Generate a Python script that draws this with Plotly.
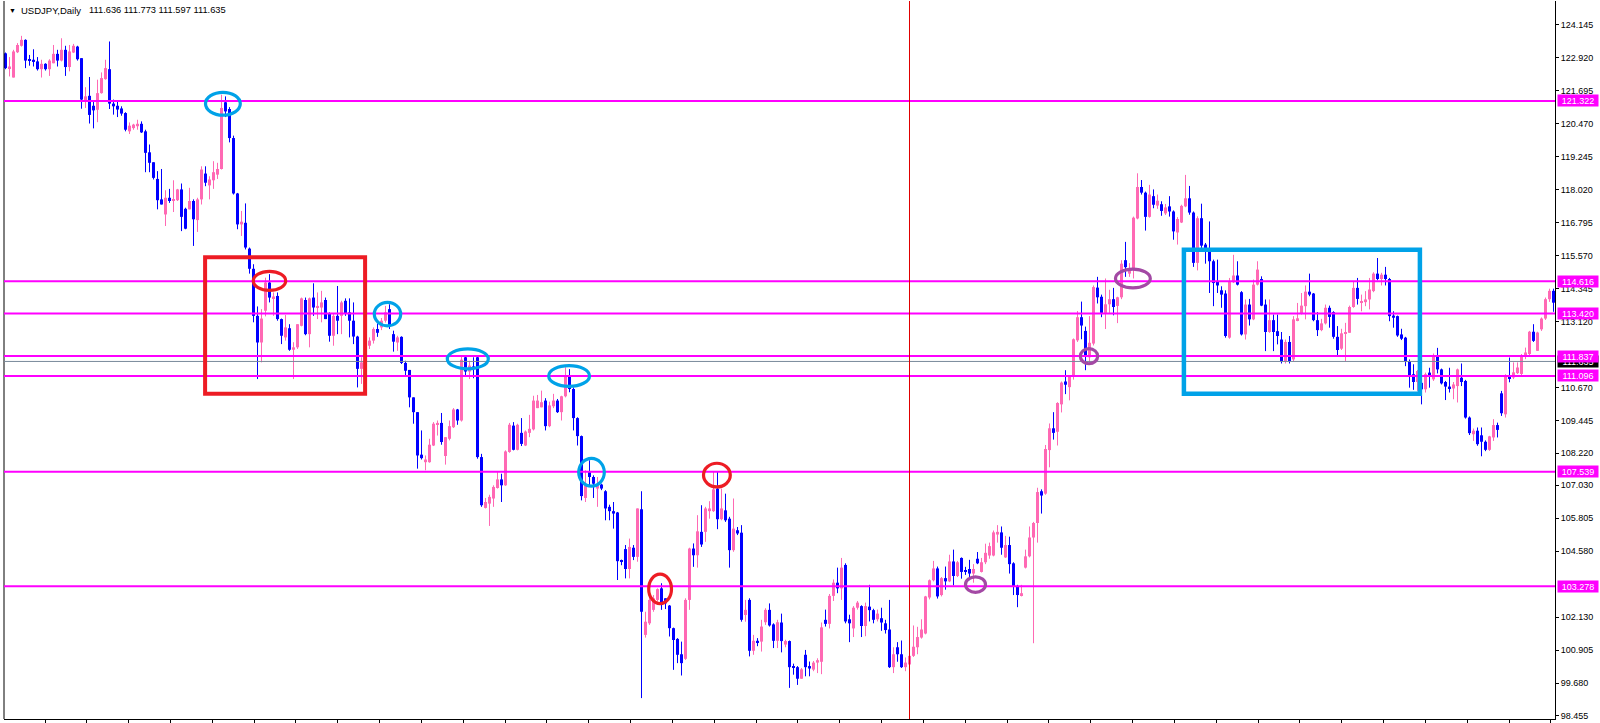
import plotly.graph_objects as go

# ---------------- data (USDJPY daily candles) ----------------
opens = [
    123.09, 122.54, 122.19, 123.13, 123.37, 123.59, 122.85, 122.85, 122.79, 122.50,
    122.70, 122.50, 122.72, 123.07, 122.82, 123.22, 122.58, 123.12, 123.34, 122.91,
    121.34, 121.51, 121.14, 120.99, 121.61, 122.13, 122.50, 121.22, 121.14, 121.04,
    120.87, 120.19, 120.31, 120.38, 120.47, 120.19, 119.41, 119.04, 118.42, 117.66,
    117.10, 117.72, 117.60, 117.63, 118.03, 117.31, 117.29, 117.60, 116.89, 117.66,
    118.62, 118.18, 118.37, 118.58, 118.79, 121.27, 121.02, 119.94, 117.88, 116.73,
    116.79, 115.83, 115.08, 113.33, 112.34, 113.52, 114.57, 113.98, 114.07, 113.21,
    112.53, 112.87, 112.07, 112.16, 112.96, 113.92, 112.65, 114.01, 113.64, 113.64,
    113.92, 113.40, 112.59, 113.33, 113.33, 113.89, 113.46, 113.15, 112.56, 111.36,
    111.60, 112.22, 112.41, 112.84, 112.90, 113.15, 113.58, 112.65, 112.34, 112.55,
    111.58, 111.32, 110.30, 109.75, 108.17, 107.89, 107.89, 108.51, 109.28, 109.35,
    108.12, 108.76, 109.19, 109.85, 109.44, 111.79, 111.26, 111.45, 111.79, 108.08,
    106.19, 106.35, 106.54, 106.93, 107.25, 107.03, 108.27, 109.25, 108.35, 108.98,
    108.51, 108.98, 109.11, 109.90, 109.93, 110.18, 109.23, 109.97, 110.18, 109.75,
    110.34, 111.08, 110.61, 109.53, 108.86, 106.56, 107.52, 107.34, 106.91, 107.06,
    106.81, 106.23, 106.07, 106.02, 104.25, 104.66, 103.92, 104.71, 104.37, 106.14,
    101.47, 101.90, 102.40, 102.77, 103.20, 102.83, 102.56, 101.72, 101.32, 100.75,
    100.58, 102.77, 104.68, 104.43, 105.30, 105.30, 106.07, 106.07, 106.91, 105.77,
    106.10, 105.79, 104.62, 105.36, 105.27, 102.21, 102.77, 100.88, 101.25, 101.22,
    101.94, 102.40, 101.86, 101.25, 101.93, 101.11, 101.24, 100.31, 100.27, 99.84,
    100.73, 100.31, 100.18, 100.44, 100.47, 102.03, 101.88, 102.92, 103.41, 103.20,
    104.07, 102.05, 101.71, 102.48, 102.54, 101.80, 102.52, 102.39, 102.05, 102.09,
    101.90, 101.67, 100.27, 101.01, 100.75, 100.27, 100.37, 100.69, 101.01, 101.37,
    101.52, 102.86, 103.50, 103.94, 102.95, 103.58, 103.46, 104.20, 103.66, 104.33,
    103.86, 103.92, 103.75, 104.30, 103.81, 104.17, 104.42, 104.42, 105.20, 105.28,
    104.35, 104.81, 104.13, 103.28, 102.95, 103.97, 104.39, 105.09, 105.63, 106.81,
    106.72, 108.34, 109.15, 109.02, 110.04, 110.89, 110.68, 111.06, 112.42, 113.28,
    112.77, 111.79, 112.30, 114.38, 114.04, 113.44, 113.76, 113.95, 113.70, 114.02,
    115.40, 114.90, 115.06, 116.95, 118.12, 117.91, 117.01, 117.78, 117.43, 117.48,
    117.14, 117.40, 117.21, 116.43, 116.80, 117.40, 117.70, 117.17, 115.30, 116.96,
    115.98, 115.82, 115.36, 114.62, 114.28, 114.16, 112.52, 114.58, 114.83, 114.21,
    112.64, 113.75, 113.20, 114.49, 114.70, 113.75, 112.73, 113.17, 112.76, 112.45,
    111.65, 112.36, 111.71, 113.17, 113.42, 113.69, 114.23, 114.16, 113.17, 112.80,
    113.05, 113.63, 113.47, 112.55, 112.11, 112.68, 112.70, 113.66, 114.37, 113.81,
    113.84, 113.94, 114.25, 114.90, 114.70, 114.86, 114.70, 113.34, 113.32, 112.64,
    112.52, 111.65, 111.16, 110.87, 110.84, 110.60, 111.22, 110.97, 111.84, 111.34,
    110.87, 110.70, 110.63, 110.72, 111.03, 110.91, 109.55, 108.93, 109.06, 108.89,
    108.65, 108.35, 108.81, 109.27, 110.45, 109.67, 111.04, 111.04, 111.20, 111.17,
    111.85, 111.91, 112.74, 112.03, 112.83, 113.23, 113.95, 114.26,
]
highs = [
    123.12, 122.95, 123.22, 123.47, 123.74, 123.61, 123.03, 123.24, 122.95, 122.85,
    122.72, 122.87, 123.40, 123.22, 123.65, 123.37, 123.40, 123.44, 123.37, 122.91,
    121.83, 122.21, 121.30, 122.11, 122.38, 122.85, 123.53, 121.37, 121.30, 121.12,
    120.90, 120.52, 120.47, 120.62, 120.56, 120.25, 119.70, 119.04, 118.71, 118.79,
    118.00, 118.05, 118.37, 118.05, 118.25, 117.35, 118.09, 117.66, 117.72, 118.89,
    118.89, 118.52, 119.08, 119.02, 121.55, 121.49, 121.09, 120.03, 117.90, 117.23,
    117.51, 115.87, 115.25, 113.68, 113.58, 114.75, 114.88, 114.20, 114.20, 113.23,
    113.36, 113.02, 112.35, 113.02, 114.01, 114.01, 114.01, 114.54, 114.20, 114.26,
    114.01, 113.46, 113.40, 114.44, 113.89, 113.98, 113.98, 113.83, 112.59, 111.79,
    112.40, 112.53, 112.90, 113.05, 113.25, 113.70, 113.76, 112.78, 112.59, 112.57,
    111.66, 111.32, 110.30, 109.75, 109.07, 108.14, 108.76, 109.38, 109.44, 109.72,
    108.82, 109.44, 109.90, 109.87, 111.85, 111.85, 111.66, 111.79, 111.82, 108.20,
    106.56, 106.68, 107.03, 107.52, 107.46, 108.33, 109.35, 109.38, 109.32, 109.53,
    109.07, 109.65, 110.36, 110.39, 110.55, 110.27, 110.14, 110.43, 110.24, 110.36,
    111.42, 111.35, 110.67, 109.56, 108.88, 107.59, 107.96, 107.40, 107.34, 107.09,
    106.85, 106.31, 106.41, 106.04, 104.27, 104.81, 105.05, 104.81, 106.17, 106.81,
    102.33, 102.83, 102.95, 103.20, 103.39, 102.83, 102.58, 101.74, 101.35, 101.22,
    102.83, 104.71, 104.87, 105.92, 106.29, 106.23, 106.44, 107.55, 107.55, 106.91,
    106.72, 105.86, 106.54, 105.48, 105.55, 102.77, 102.83, 101.47, 101.35, 102.03,
    102.46, 102.64, 101.90, 102.03, 102.26, 101.29, 101.26, 100.40, 100.31, 100.24,
    100.91, 100.48, 100.50, 100.60, 101.93, 102.41, 102.99, 103.53, 103.97, 104.33,
    104.13, 102.22, 102.54, 102.73, 102.57, 102.67, 103.33, 102.44, 102.41, 102.48,
    102.03, 102.77, 101.01, 101.20, 101.26, 100.63, 101.03, 101.82, 101.77, 102.05,
    102.92, 103.53, 104.22, 104.01, 103.62, 104.01, 104.45, 104.64, 104.22, 104.35,
    104.00, 104.26, 104.10, 104.55, 104.33, 104.86, 104.90, 105.35, 105.55, 105.50,
    105.15, 105.12, 104.17, 103.33, 103.33, 104.64, 105.50, 105.67, 106.94, 106.88,
    108.53, 109.33, 109.75, 110.12, 110.89, 111.31, 111.11, 112.49, 113.51, 113.86,
    112.93, 113.32, 114.46, 114.78, 114.12, 114.72, 114.30, 114.37, 114.04, 115.40,
    116.08, 115.29, 117.02, 118.63, 118.38, 117.95, 118.20, 118.03, 117.84, 117.59,
    117.49, 117.78, 117.25, 117.00, 117.46, 118.57, 118.16, 117.21, 117.03, 117.50,
    116.04, 116.84, 115.42, 115.42, 114.43, 114.28, 114.74, 115.60, 115.36, 114.25,
    113.94, 113.96, 114.68, 115.36, 114.80, 113.94, 113.94, 113.38, 113.38, 112.73,
    112.45, 112.58, 113.32, 113.81, 114.18, 114.46, 114.90, 114.18, 113.47, 113.22,
    113.75, 113.71, 113.50, 112.95, 112.85, 113.07, 113.71, 114.62, 114.74, 114.12,
    114.25, 114.74, 114.95, 115.48, 114.93, 115.15, 114.74, 113.50, 113.34, 112.85,
    112.55, 111.71, 111.53, 111.32, 110.87, 111.22, 111.40, 111.93, 112.14, 111.37,
    110.91, 111.40, 110.87, 111.37, 111.56, 110.95, 109.59, 109.14, 109.18, 109.18,
    108.70, 108.87, 109.49, 109.36, 110.54, 111.16, 111.78, 111.60, 111.60, 111.91,
    112.15, 112.77, 113.02, 112.74, 113.27, 114.01, 114.34, 114.34,
]
lows = [
    122.50, 122.23, 122.19, 123.10, 123.34, 122.54, 122.63, 122.60, 122.45, 122.19,
    122.45, 122.25, 122.72, 122.60, 122.79, 122.25, 122.42, 123.10, 122.82, 121.03,
    121.06, 120.48, 120.30, 120.53, 121.59, 122.11, 121.02, 120.81, 120.72, 120.77,
    120.19, 120.09, 120.25, 120.25, 120.13, 118.67, 118.67, 118.40, 117.29, 117.47,
    116.67, 117.53, 117.19, 117.60, 116.48, 116.55, 117.29, 115.93, 116.45, 117.47,
    118.15, 117.66, 118.05, 118.42, 118.77, 120.72, 119.78, 117.84, 116.55, 116.30,
    115.80, 114.90, 113.09, 110.98, 111.60, 113.31, 113.83, 113.33, 113.15, 112.28,
    112.41, 112.03, 110.98, 112.10, 112.94, 112.61, 112.16, 113.33, 113.21, 113.09,
    113.21, 112.37, 112.22, 112.65, 112.65, 113.33, 112.53, 112.28, 110.67, 110.80,
    111.55, 112.10, 112.30, 112.55, 112.80, 113.08, 112.84, 112.00, 112.03, 111.54,
    111.13, 109.93, 109.32, 107.65, 107.99, 107.59, 107.87, 108.49, 108.88, 108.54,
    107.80, 108.70, 109.16, 109.28, 109.40, 111.13, 110.98, 111.01, 108.02, 106.23,
    106.17, 105.52, 106.23, 106.91, 106.41, 107.01, 108.24, 108.33, 108.33, 108.49,
    108.49, 108.82, 109.07, 109.90, 109.93, 109.07, 109.19, 109.90, 109.72, 109.44,
    110.30, 110.49, 109.07, 108.51, 106.47, 106.41, 107.03, 106.56, 106.23, 106.85,
    105.73, 105.73, 105.42, 103.51, 104.06, 103.57, 103.57, 104.25, 104.19, 99.12,
    101.37, 101.84, 102.33, 102.71, 102.40, 102.43, 101.41, 100.17, 100.42, 99.96,
    100.54, 102.40, 104.00, 103.97, 104.74, 104.93, 105.79, 106.04, 105.40, 105.73,
    105.67, 103.97, 104.56, 105.18, 101.96, 101.96, 100.67, 100.73, 101.05, 100.85,
    101.84, 101.78, 100.98, 100.98, 100.82, 101.01, 99.50, 99.99, 99.61, 99.84,
    99.93, 99.93, 100.12, 100.05, 100.01, 101.78, 101.71, 102.73, 103.02, 102.77,
    101.90, 101.20, 101.39, 102.41, 101.39, 101.42, 101.97, 101.90, 101.97, 101.62,
    101.52, 100.24, 100.05, 100.47, 100.24, 100.12, 100.35, 100.65, 100.75, 101.33,
    101.49, 102.79, 103.46, 102.82, 102.90, 103.15, 103.43, 103.31, 103.62, 103.56,
    103.70, 103.50, 103.41, 104.10, 103.79, 104.10, 104.30, 104.39, 104.90, 104.45,
    104.33, 103.75, 102.95, 102.50, 102.90, 103.94, 104.35, 101.16, 104.90, 105.98,
    106.68, 107.70, 108.73, 108.51, 109.74, 110.42, 110.19, 110.96, 112.36, 112.46,
    111.31, 111.59, 112.23, 113.79, 113.28, 112.84, 113.44, 113.35, 113.06, 113.95,
    114.78, 114.78, 114.72, 116.92, 117.84, 116.50, 116.98, 117.33, 117.31, 117.05,
    117.08, 117.02, 116.16, 115.98, 116.78, 117.37, 117.09, 115.15, 115.02, 115.85,
    115.27, 114.18, 113.69, 114.18, 113.63, 112.52, 112.48, 114.55, 114.46, 112.60,
    112.45, 112.97, 113.17, 114.46, 113.69, 112.02, 112.70, 112.02, 112.27, 111.56,
    111.56, 111.56, 111.65, 113.13, 113.38, 113.20, 114.06, 113.13, 112.58, 112.76,
    113.01, 112.89, 112.48, 111.86, 112.06, 111.65, 112.70, 113.63, 113.75, 113.50,
    113.69, 113.57, 114.21, 114.65, 114.46, 114.46, 113.13, 112.89, 112.55, 112.43,
    111.46, 110.66, 110.58, 110.54, 110.04, 110.48, 110.66, 110.91, 111.19, 110.78,
    110.20, 110.48, 110.23, 110.11, 110.72, 109.51, 108.90, 108.68, 108.50, 108.11,
    108.30, 108.31, 108.68, 108.81, 109.61, 109.55, 110.86, 110.98, 111.17, 111.13,
    111.72, 111.87, 112.36, 112.03, 112.77, 113.18, 113.85, 113.48,
]
closes = [
    122.54, 122.60, 123.16, 123.40, 123.59, 122.82, 122.81, 122.77, 122.50, 122.70,
    122.50, 122.82, 123.07, 122.82, 123.22, 122.58, 123.16, 123.37, 122.87, 121.37,
    121.49, 120.80, 120.97, 121.61, 122.17, 122.54, 121.22, 121.12, 121.00, 120.85,
    120.25, 120.40, 120.44, 120.47, 120.15, 119.39, 119.02, 118.46, 117.63, 117.47,
    117.72, 117.60, 117.66, 118.03, 117.01, 116.57, 117.60, 116.92, 117.66, 118.77,
    118.28, 118.40, 118.67, 118.79, 121.06, 120.93, 119.94, 117.88, 116.73, 116.83,
    115.87, 115.08, 113.33, 112.34, 113.23, 114.57, 114.01, 114.05, 113.21, 112.59,
    112.90, 112.07, 112.16, 113.02, 113.98, 112.65, 113.98, 113.64, 113.70, 113.83,
    113.21, 112.59, 113.33, 113.15, 113.83, 113.40, 113.15, 112.56, 111.36, 111.60,
    112.22, 112.41, 112.84, 112.70, 113.15, 113.46, 112.96, 112.37, 112.53, 111.58,
    111.29, 110.30, 109.75, 108.14, 108.04, 107.99, 108.54, 109.32, 109.35, 108.64,
    108.82, 109.23, 109.85, 109.44, 111.70, 111.26, 111.48, 111.35, 108.08, 106.29,
    106.41, 106.60, 106.97, 107.25, 107.03, 108.29, 109.28, 108.35, 109.28, 108.57,
    109.03, 109.13, 110.18, 110.18, 110.12, 109.23, 110.00, 110.18, 109.75, 110.34,
    111.08, 110.61, 109.53, 108.86, 106.63, 107.03, 107.34, 107.09, 107.03, 106.91,
    106.17, 106.07, 105.98, 104.21, 104.21, 103.92, 104.74, 104.37, 106.17, 102.33,
    101.96, 102.77, 102.83, 103.17, 102.64, 102.64, 101.72, 101.28, 100.73, 100.42,
    102.77, 104.68, 104.43, 105.32, 104.83, 106.17, 106.17, 106.88, 105.77, 106.17,
    105.73, 104.62, 105.42, 105.24, 102.03, 102.40, 100.88, 101.25, 101.20, 101.78,
    102.40, 101.82, 101.25, 101.94, 101.24, 101.24, 100.27, 100.24, 99.84, 100.19,
    100.27, 100.22, 100.44, 100.53, 101.75, 101.88, 102.92, 103.41, 103.20, 103.97,
    101.97, 101.90, 102.48, 102.67, 101.80, 102.54, 102.39, 102.03, 102.26, 101.93,
    101.65, 100.27, 100.75, 100.75, 100.27, 100.44, 100.69, 101.03, 101.39, 101.67,
    102.90, 103.50, 103.94, 102.90, 103.58, 103.46, 104.20, 103.66, 104.17, 103.81,
    103.84, 103.75, 103.92, 104.13, 104.17, 104.52, 104.77, 105.28, 105.30, 104.71,
    104.81, 104.10, 103.28, 102.95, 103.02, 104.39, 105.09, 105.63, 106.78, 106.65,
    108.38, 109.15, 108.98, 110.09, 110.85, 110.77, 111.06, 112.46, 113.28, 112.97,
    111.85, 112.33, 114.40, 114.02, 113.44, 113.76, 113.95, 113.66, 114.02, 115.27,
    115.14, 115.06, 116.98, 118.12, 117.91, 117.01, 117.84, 117.46, 117.61, 117.23,
    117.36, 117.21, 116.47, 116.93, 117.42, 117.70, 117.17, 115.30, 116.96, 115.94,
    115.82, 115.36, 114.55, 114.46, 114.12, 112.58, 114.62, 114.83, 114.49, 112.64,
    113.75, 113.20, 114.49, 115.05, 113.71, 112.73, 113.17, 112.73, 112.58, 111.65,
    112.36, 111.65, 113.20, 113.24, 113.71, 114.23, 114.12, 113.17, 112.80, 113.05,
    113.63, 113.29, 112.55, 112.06, 112.68, 112.73, 113.66, 114.37, 113.96, 113.87,
    113.94, 114.31, 114.90, 114.70, 114.86, 114.70, 113.32, 113.26, 112.60, 112.48,
    111.65, 111.07, 110.87, 111.28, 110.60, 111.16, 111.16, 111.84, 111.34, 110.82,
    110.70, 110.63, 110.78, 111.34, 110.87, 109.55, 108.97, 109.06, 108.56, 108.65,
    108.35, 108.85, 109.27, 109.09, 109.71, 111.09, 111.01, 111.23, 111.41, 111.87,
    111.97, 112.74, 112.40, 112.71, 113.23, 113.95, 114.26, 113.82,
]

# horizontal support / resistance levels and the current bid line
level_prices = [121.322, 114.616, 113.420, 111.837, 111.096, 107.539, 103.278]
bid_price = 111.635
separator_bar = 226          # red vertical line

header_symbol = "USDJPY,Daily"
header_quote = "111.636 111.773 111.597 111.635"

tick_vals = [124.145, 122.920, 121.695, 120.470, 119.245, 118.020, 116.795,
             115.570, 114.345, 113.120, 110.670, 109.445, 108.220, 107.030,
             105.805, 104.580, 102.130, 100.905, 99.680, 98.455]
tick_text = ["124.145", "122.920", "121.695", "120.470", "119.245", "118.020",
             "116.795", "115.570", "114.345", "113.120", "110.670", "109.445",
             "108.220", "107.030", "105.805", "104.580", "102.130", "100.905",
             "99.680", "98.455"]

# hand-drawn markers (bar index / price)
ellipse_x0 = [50.0, 61.95, 92.2, 110.45, 135.8, 143.3, 174.5, 160.8, 240.0, 268.7, 277.5]
ellipse_x1 = [58.7, 70.05, 98.8, 120.7, 146.0, 149.7, 181.2, 166.5, 245.0, 273.05, 286.2]
ellipse_y0 = [120.79, 114.28, 112.96, 111.36, 110.71, 107.00, 106.97, 102.63, 103.05, 111.55, 114.37]
ellipse_y1 = [121.64, 114.98, 113.83, 112.10, 111.48, 108.03, 107.85, 103.73, 103.63, 112.11, 115.07]
ellipse_col = ["#00A2E8", "#ED1C24", "#00A2E8", "#00A2E8", "#00A2E8", "#00A2E8",
               "#ED1C24", "#ED1C24", "#A349A4", "#A349A4", "#A349A4"]

box_x0 = [49.9, 294.6]
box_x1 = [89.9, 353.6]
box_y0 = [110.43, 110.43]
box_y1 = [115.51, 115.79]
box_col = ["#ED1C24", "#00A2E8"]
box_w = [4, 4.5]

# ---------------- figure ----------------
n = len(opens)
assert n == len(highs) == len(lows) == len(closes), (len(opens), len(highs), len(lows), len(closes))

BULL = "#FF69B4"
BEAR = "#0000FF"
idx = list(range(n))
up = [c >= o for o, c in zip(opens, closes)]

fig = go.Figure()
for sel, col in ((True, BULL), (False, BEAR)):
    xs, ys = [], []
    for i in idx:
        if up[i] == sel:
            xs += [i, i, None]
            ys += [lows[i], highs[i], None]
    fig.add_trace(go.Scatter(x=xs, y=ys, mode="lines", line=dict(color=col, width=1),
                             hoverinfo="skip", connectgaps=False))

body_base = [min(o, c) for o, c in zip(opens, closes)]
body_h = [max(abs(c - o), 0.037) for o, c in zip(opens, closes)]
fig.add_trace(go.Bar(x=idx, y=body_h, base=body_base, width=0.75,
                     marker=dict(color=[BULL if u else BEAR for u in up], line=dict(width=0)),
                     hoverinfo="skip"))

shapes = []
# left frame line
shapes.append(dict(type="line", xref="paper", yref="paper", x0=0, x1=0, y0=0, y1=1,
                   line=dict(color="black", width=1)))
# bid line
shapes.append(dict(type="line", xref="paper", yref="y", x0=0, x1=1, y0=bid_price, y1=bid_price,
                   line=dict(color="#778899", width=1)))
# levels
for p in level_prices:
    shapes.append(dict(type="line", xref="paper", yref="y", x0=0, x1=1, y0=p, y1=p,
                       line=dict(color="#FF00FF", width=2)))
# vertical separator
shapes.append(dict(type="line", xref="x", yref="paper", x0=separator_bar, x1=separator_bar, y0=0, y1=1,
                   line=dict(color="#E00000", width=1)))
# boxes
for x0, x1, y0, y1, c, w in zip(box_x0, box_x1, box_y0, box_y1, box_col, box_w):
    shapes.append(dict(type="rect", xref="x", yref="y", x0=x0, x1=x1, y0=y0, y1=y1,
                       line=dict(color=c, width=w), fillcolor="rgba(0,0,0,0)"))
# ellipses
for x0, x1, y0, y1, c in zip(ellipse_x0, ellipse_x1, ellipse_y0, ellipse_y1, ellipse_col):
    shapes.append(dict(type="circle", xref="x", yref="y", x0=x0, x1=x1, y0=y0, y1=y1,
                       line=dict(color=c, width=3.2), fillcolor="rgba(0,0,0,0)"))

annotations = []
FONT = "Liberation Sans"
# bid label (black), then level labels (magenta) on top
annotations.append(dict(xref="paper", x=1, xanchor="left", xshift=2, yref="y", y=bid_price,
                        yanchor="middle", text=f"{bid_price:.3f}", showarrow=False,
                        bgcolor="black", font=dict(color="white", size=9, family=FONT),
                        width=40, height=11, borderpad=0, align="center"))
for p in level_prices:
    annotations.append(dict(xref="paper", x=1, xanchor="left", xshift=2, yref="y", y=p,
                            yanchor="middle", text=f"{p:.3f}", showarrow=False,
                            bgcolor="#FF00FF", font=dict(color="white", size=9, family=FONT),
                            width=40, height=11, borderpad=0, align="center"))
# header
annotations.append(dict(xref="paper", yref="paper", x=0, y=1, xanchor="center", yanchor="middle",
                        xshift=8, yshift=-9, text="▼", showarrow=False,
                        font=dict(color="black", size=7, family=FONT)))
annotations.append(dict(xref="paper", yref="paper", x=0, y=1, xanchor="left", yanchor="middle",
                        xshift=15, yshift=-9, text=header_symbol, showarrow=False,
                        font=dict(color="black", size=9.5, family=FONT)))
annotations.append(dict(xref="paper", yref="paper", x=0, y=1, xanchor="left", yanchor="middle",
                        xshift=83, yshift=-9, text=header_quote, showarrow=False,
                        font=dict(color="black", size=9.3, family=FONT)))

fig.update_layout(
    width=1600, height=723,
    margin=dict(l=4, r=45, t=1, b=2),
    paper_bgcolor="white", plot_bgcolor="white",
    showlegend=False, barmode="overlay",
    shapes=shapes, annotations=annotations,
    hovermode=False,
)
fig.update_xaxes(range=[-0.375, 387.375], showgrid=False, zeroline=False,
                 showticklabels=False, ticks="outside", ticklen=3, tickcolor="black",
                 tick0=9.875, dtick=10.458, showline=True, linecolor="black", linewidth=1)
fig.update_yaxes(side="right", range=[98.343, 125.035], showgrid=False, zeroline=False,
                 tickmode="array", tickvals=tick_vals, ticktext=tick_text,
                 ticks="outside", ticklen=3, tickcolor="black",
                 showline=True, linecolor="black", linewidth=1,
                 tickfont=dict(family=FONT, size=9, color="black"))

page_fix = ("document.documentElement.style.margin='0px';"
            "document.body.style.margin='0px';"
            "document.body.style.padding='0px';"
            "document.body.style.overflow='hidden';")

fig.write_html("out.html", config={"displayModeBar": False}, post_script=page_fix)
